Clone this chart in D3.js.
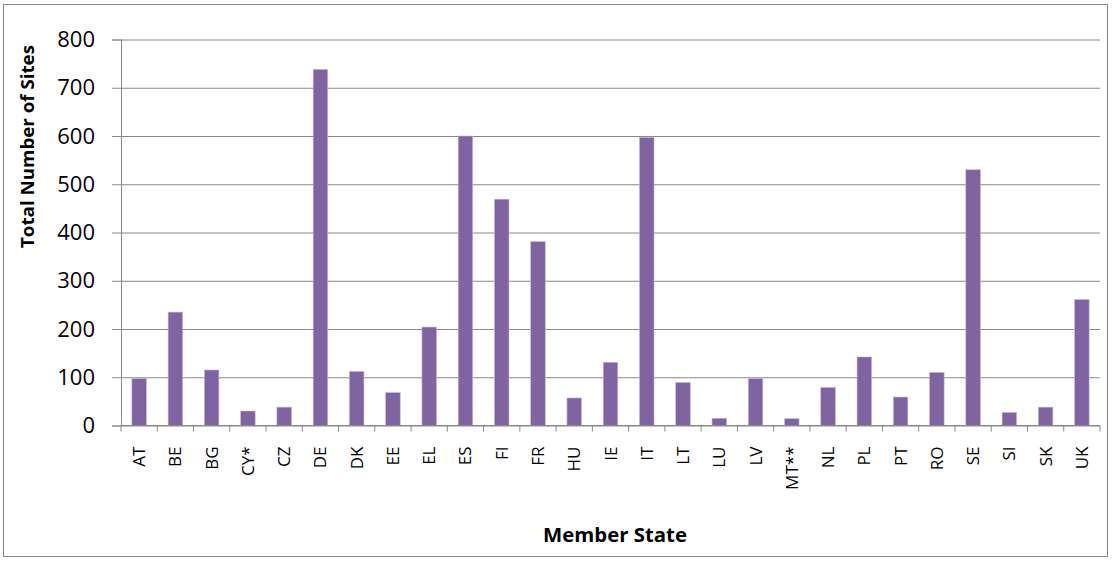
<!DOCTYPE html>
<html>
<head>
<meta charset="utf-8">
<script src="https://cdn.jsdelivr.net/npm/d3@7"></script>
<style>
  body { margin: 0; background: #fff; }
  svg text { font-family: "Open Sans", Lato, sans-serif; fill: #000; }
</style>
</head>
<body>
<div id="chart"></div>
<script>
// member states on the x axis
const states = ["AT", "BE", "BG", "CY*", "CZ", "DE", "DK", "EE", "EL", "ES", "FI", "FR", "HU",
  "IE", "IT", "LT", "LU", "LV", "MT**", "NL", "PL", "PT", "RO", "SE", "SI", "SK", "UK"];
// total number of sites per state
const sites = [97, 235, 115, 30, 38, 738, 112, 68, 204, 600, 469, 381, 57,
  131, 597, 89, 15, 97, 14, 79, 142, 59, 110, 530, 27, 38, 261];
const yTicks = [0, 100, 200, 300, 400, 500, 600, 700, 800];

const width = 1112, height = 561;
const margin = { top: 39.5, right: 12, bottom: 135.5, left: 121 };

const svg = d3.select("#chart").append("svg")
  .attr("width", width)
  .attr("height", height);

// outer frame
svg.append("rect")
  .attr("x", 3.5).attr("y", 4.5)
  .attr("width", 1104).attr("height", 552)
  .attr("fill", "none")
  .attr("stroke", "#868686");

const x = d3.scaleBand()
  .domain(states)
  .range([margin.left, width - margin.right])
  .paddingInner(0.6)
  .paddingOuter(0.3);

const y = d3.scaleLinear()
  .domain([0, 800])
  .range([height - margin.bottom, margin.top]);

// y gridlines
svg.append("g")
  .attr("class", "grid")
  .attr("transform", "translate(" + margin.left + ",0)")
  .call(d3.axisLeft(y).tickValues(yTicks).tickSize(-(width - margin.right - margin.left)).tickFormat(""))
  .call(g => g.select(".domain").remove())
  .call(g => g.selectAll("line").attr("stroke", "#8a8a8a"));

// y axis
svg.append("g")
  .attr("transform", "translate(" + margin.left + ",0)")
  .call(d3.axisLeft(y).tickValues(yTicks).tickSize(9).tickPadding(17))
  .call(g => g.select(".domain").attr("stroke", "#8a8a8a"))
  .call(g => g.selectAll("line").attr("stroke", "#8a8a8a"))
  .call(g => g.selectAll("text")
    .attr("font-family", "'Open Sans', sans-serif")
    .attr("font-size", "22px").attr("fill", "#000"));

// bars
svg.append("g")
  .selectAll("rect")
  .data(sites)
  .enter()
  .append("rect")
  .attr("x", (d, i) => x(states[i]))
  .attr("y", d => y(d))
  .attr("width", x.bandwidth())
  .attr("height", d => y(0) - y(d))
  .attr("fill", "#8064a2")
  .attr("stroke", "#c3b3d6")
  .attr("stroke-width", 0.6);

// x axis with ticks between categories
const step = x.step();
const boundaries = d3.range(states.length + 1).map(i => margin.left + i * step);
const xAxis = svg.append("g")
  .attr("transform", "translate(0," + y(0) + ")");
xAxis.append("line")
  .attr("x1", margin.left).attr("x2", width - margin.right)
  .attr("stroke", "#8a8a8a");
xAxis.selectAll(".tick")
  .data(boundaries)
  .enter()
  .append("line")
  .attr("x1", d => d).attr("x2", d => d)
  .attr("y1", 0).attr("y2", 6)
  .attr("stroke", "#8a8a8a");

xAxis.selectAll("text")
  .data(states)
  .enter()
  .append("text")
  .text(d => d)
  .attr("font-size", "17px")
  .attr("text-anchor", "end")
  .attr("transform", d => "translate(" + (x(d) + x.bandwidth() / 2 + 6) + ",21) rotate(-90)");

// axis titles
svg.append("text")
  .text("Member State")
  .attr("x", 543)
  .attr("y", 542)
  .attr("textLength", 144)
  .attr("lengthAdjust", "spacingAndGlyphs")
  .attr("font-size", "19px")
  .attr("font-weight", "bold");

svg.append("text")
  .text("Total Number of Sites")
  .attr("transform", "translate(34,248) rotate(-90)")
  .attr("textLength", 203)
  .attr("lengthAdjust", "spacingAndGlyphs")
  .attr("font-size", "18px")
  .attr("font-weight", "bold");
</script>
</body>
</html>
